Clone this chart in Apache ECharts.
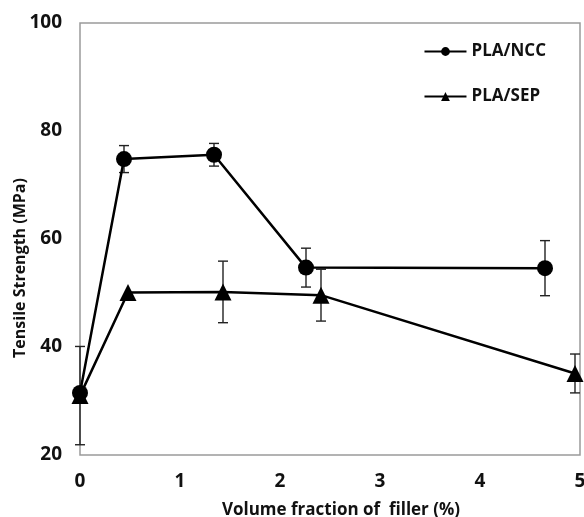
<!DOCTYPE html>
<html>
<head>
<meta charset="utf-8">
<script src="https://cdn.jsdelivr.net/npm/echarts@6/dist/echarts.min.js"></script>
<style>
  html, body { margin: 0; padding: 0; background: #fff; }
  #chart { width: 584px; height: 517px; }
</style>
</head>
<body>
<div id="chart"></div>
<script>
// Volume fraction of filler (%) for each sample
const ncc_x = [0, 0.44, 1.34, 2.26, 4.65];
const sep_x = [0, 0.48, 1.43, 2.41, 4.95];
// Mean tensile strength (MPa)
const ncc_y = [31.5, 74.8, 75.6, 54.7, 54.6];
const sep_y = [31.0, 50.1, 50.2, 49.6, 35.1];
// Standard deviation (MPa), drawn as error bars
const ncc_err = [0, 2.5, 2.1, 3.6, 5.1];
const sep_err = [9.1, 0, 5.7, 4.8, 3.6];
// Axis ranges
const x_ticks = [0, 1, 2, 3, 4, 5];
const y_ticks = [20, 40, 60, 80, 100];

const FONT = '"Open Sans", "DejaVu Sans", sans-serif';
const INK = '#000';
const TXT = '#111';

function pairs(xs, ys) {
  return xs.map((x, i) => [x, ys[i]]);
}
function errRows(xs, ys, es) {
  const rows = [];
  xs.forEach((x, i) => {
    if (es[i] > 0) rows.push([x, ys[i] - es[i], ys[i] + es[i]]);
  });
  return rows;
}

function renderErr(params, api) {
  const x = api.value(0);
  const lo = api.coord([x, api.value(1)]);
  const hi = api.coord([x, api.value(2)]);
  const cap = 5;
  const style = { stroke: '#222', lineWidth: 1.4 };
  return {
    type: 'group',
    children: [
      { type: 'line', shape: { x1: lo[0], y1: lo[1], x2: hi[0], y2: hi[1] }, style },
      { type: 'line', shape: { x1: lo[0] - cap, y1: lo[1], x2: lo[0] + cap, y2: lo[1] }, style },
      { type: 'line', shape: { x1: hi[0] - cap, y1: hi[1], x2: hi[0] + cap, y2: hi[1] }, style }
    ]
  };
}

const chart = echarts.init(document.getElementById('chart'), null, { renderer: 'canvas' });

chart.setOption({
  animation: false,
  backgroundColor: '#fff',
  textStyle: { fontFamily: FONT },
  grid: {
    left: 80, right: 4, top: 23, bottom: 62,
    containLabel: false, outerBoundsMode: 'none',
    show: true, borderColor: '#9a9a9a', borderWidth: 1.5, backgroundColor: 'transparent'
  },
  legend: {
    orient: 'vertical',
    right: 33, top: 38,
    itemWidth: 42, itemHeight: 11, itemGap: 28,
    textStyle: { fontFamily: FONT, fontWeight: 'bold', fontSize: 17, color: TXT },
    data: ['PLA/NCC', 'PLA/SEP']
  },
  xAxis: {
    type: 'value',
    min: x_ticks[0], max: x_ticks[x_ticks.length - 1], interval: 1,
    axisLine: { show: false }, axisTick: { show: false }, splitLine: { show: false },
    axisLabel: { fontFamily: FONT, fontWeight: 'bold', fontSize: 19, color: TXT, margin: 17 },
    name: 'Volume fraction of  filler (%)',
    nameLocation: 'middle', nameGap: 47, nameMoveOverlap: false,
    nameTextStyle: {
      fontFamily: FONT, fontWeight: 'bold', fontSize: 17, color: TXT,
      padding: [0, 0, 0, 22]
    }
  },
  yAxis: {
    type: 'value',
    min: y_ticks[0], max: y_ticks[y_ticks.length - 1], interval: 20,
    axisLine: { show: false }, axisTick: { show: false }, splitLine: { show: false },
    axisLabel: { fontFamily: FONT, fontWeight: 'bold', fontSize: 19, color: TXT, margin: 18 },
    name: 'Tensile Strength (MPa)',
    nameLocation: 'middle', nameGap: 52, nameMoveOverlap: false,
    nameTextStyle: {
      fontFamily: FONT, fontWeight: 'bold', fontSize: 16, color: TXT,
      padding: [0, 58, 0, 0]
    }
  },
  series: [
    {
      type: 'custom', name: 'err-sep', renderItem: renderErr,
      data: errRows(sep_x, sep_y, sep_err), z: 1, silent: true
    },
    {
      type: 'custom', name: 'err-ncc', renderItem: renderErr,
      data: errRows(ncc_x, ncc_y, ncc_err), z: 1, silent: true
    },
    {
      name: 'PLA/SEP', type: 'line', data: pairs(sep_x, sep_y),
      symbol: 'triangle', symbolSize: 17, z: 3,
      lineStyle: { color: INK, width: 2.5 }, itemStyle: { color: INK }
    },
    {
      name: 'PLA/NCC', type: 'line', data: pairs(ncc_x, ncc_y),
      symbol: 'circle', symbolSize: 16, z: 4,
      lineStyle: { color: INK, width: 2.5 }, itemStyle: { color: INK }
    }
  ]
});
</script>
</body>
</html>
